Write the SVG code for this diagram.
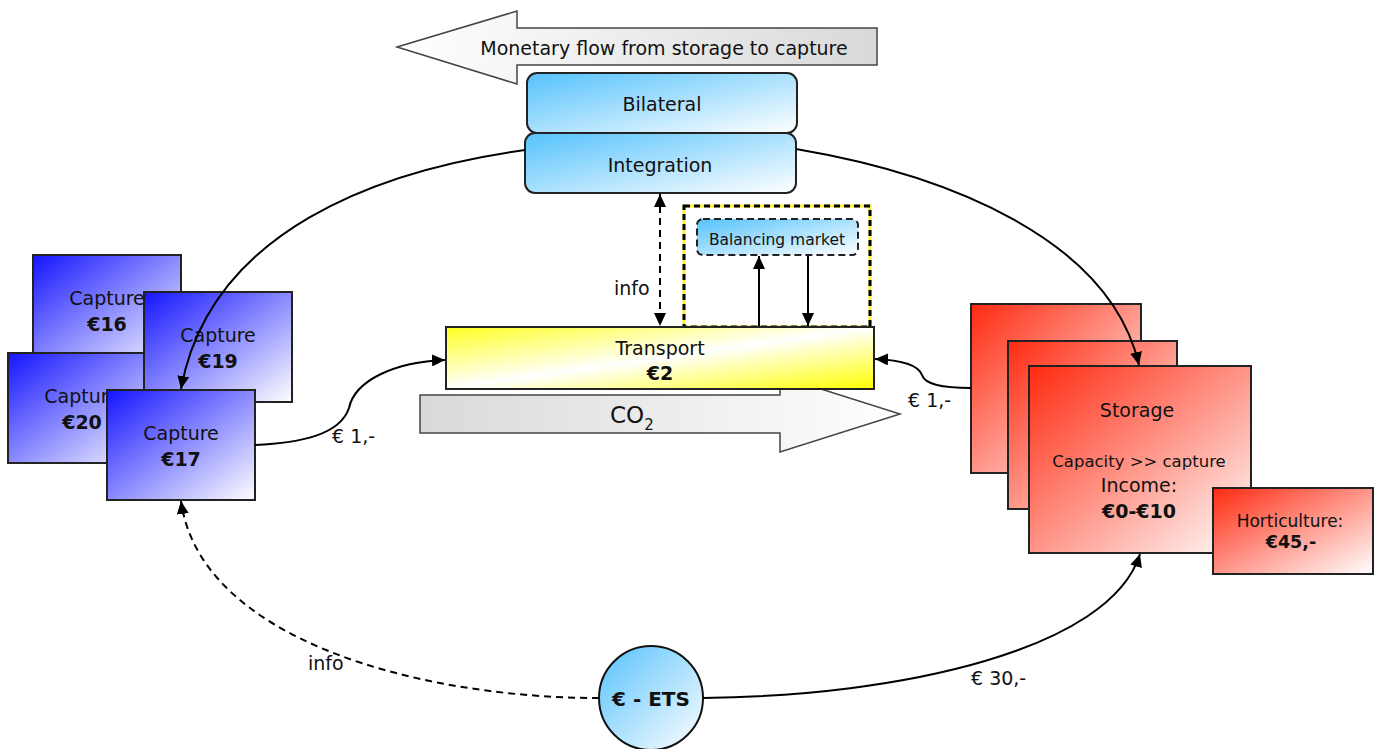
<svg xmlns="http://www.w3.org/2000/svg" width="1380" height="749" viewBox="0 0 1380 749">
<defs>
<linearGradient id="gBlue" x1="0" y1="0" x2="1" y2="1"><stop offset="0" stop-color="#1414ff"/><stop offset="1" stop-color="#ffffff"/></linearGradient>
<linearGradient id="gRed" x1="0" y1="0" x2="1" y2="1"><stop offset="0" stop-color="#ff2a10"/><stop offset="1" stop-color="#ffffff"/></linearGradient>
<linearGradient id="gSky" x1="0" y1="0" x2="1" y2="1"><stop offset="0" stop-color="#55c2fc"/><stop offset="1" stop-color="#ffffff"/></linearGradient>
<linearGradient id="gYel" x1="0" y1="0" x2="1" y2="1"><stop offset="0" stop-color="#ffff20"/><stop offset="0.5" stop-color="#ffffff"/><stop offset="1" stop-color="#ffff00"/></linearGradient>
<linearGradient id="gGrayR" x1="0" y1="0" x2="1" y2="0"><stop offset="0" stop-color="#ffffff"/><stop offset="1" stop-color="#d9d9d9"/></linearGradient>
<linearGradient id="gGrayL" x1="0" y1="0" x2="1" y2="0"><stop offset="0" stop-color="#d9d9d9"/><stop offset="1" stop-color="#ffffff"/></linearGradient>
<marker id="ah" markerUnits="userSpaceOnUse" markerWidth="14" markerHeight="12" refX="13" refY="6" orient="auto-start-reverse"><path d="M0,0 L13,6 L0,12 z" fill="#000"/></marker>
<style>
text{font-family:"DejaVu Sans","Liberation Sans",sans-serif;fill:#111;}
.t18{font-size:19px;}
.b{font-weight:bold;}
.box{stroke:#222;stroke-width:2;}
.c{text-anchor:middle;}
.ln{fill:none;stroke:#000;stroke-width:2;}
.dash{stroke-dasharray:7 5;}
</style>
</defs>

<g id="monetary-arrow">
<polygon points="397,47 517,11 517,28 877,28 877,65 517,65 517,84" fill="url(#gGrayR)" stroke="#444" stroke-width="1.5"/>
<text class="c" x="664" y="55" style="font-size:19px">Monetary flow from storage to capture</text>
</g>

<g id="co2-arrow">
<polygon points="420,395 780,395 780,376 900,414 780,452 780,433 420,433" fill="url(#gGrayL)" stroke="#444" stroke-width="1.5"/>
<text x="610" y="423" style="font-size:23px">CO<tspan dy="7" style="font-size:15px">2</tspan></text>
</g>

<g id="bilateral">
<rect class="box" x="527" y="73" width="270" height="60" rx="10" fill="url(#gSky)"/>
<text class="c t18" x="662" y="111">Bilateral</text>
</g>
<g id="integration">
<rect class="box" x="525" y="133" width="271" height="60" rx="10" fill="url(#gSky)"/>
<text class="c t18" x="660" y="172">Integration</text>
</g>

<g id="balancing-area">
<rect x="684" y="206" width="186" height="121" fill="none" stroke="#ffee33" stroke-width="3"/>
<rect x="684" y="206" width="186" height="121" fill="none" stroke="#000" stroke-width="3" stroke-dasharray="6 4"/>
</g>
<g id="balancing-market">
<rect x="697" y="219" width="161" height="36" rx="6" fill="url(#gSky)" stroke="#222" stroke-width="2" stroke-dasharray="7 4"/>
<text class="c" x="777" y="245" style="font-size:15.5px">Balancing market</text>
</g>

<g id="transport">
<rect class="box" x="446" y="327" width="428" height="62" fill="url(#gYel)"/>
<text class="c t18" x="660" y="355">Transport</text>
<text class="c t18 b" x="660" y="380">€2</text>
</g>

<g id="capture16">
<rect class="box" x="33" y="255" width="148" height="110" fill="url(#gBlue)"/>
<text class="c t18" x="107" y="305">Capture</text>
<text class="c t18 b" x="107" y="331">€16</text>
</g>
<g id="capture20">
<rect class="box" x="8" y="353" width="148" height="110" fill="url(#gBlue)"/>
<text class="c t18" x="82" y="403">Capture</text>
<text class="c t18 b" x="82" y="429">€20</text>
</g>
<g id="capture19">
<rect class="box" x="144" y="292" width="148" height="110" fill="url(#gBlue)"/>
<text class="c t18" x="218" y="342">Capture</text>
<text class="c t18 b" x="218" y="368">€19</text>
</g>
<g id="capture17">
<rect class="box" x="107" y="390" width="148" height="110" fill="url(#gBlue)"/>
<text class="c t18" x="181" y="440">Capture</text>
<text class="c t18 b" x="181" y="466">€17</text>
</g>

<g id="storage-back">
<rect class="box" x="971" y="304" width="170" height="169" fill="url(#gRed)"/>
</g>
<g id="storage-mid">
<rect class="box" x="1008" y="341" width="169" height="168" fill="url(#gRed)"/>
</g>
<g id="storage">
<rect class="box" x="1029" y="366" width="222" height="187" fill="url(#gRed)"/>
<text class="c t18" x="1137" y="417">Storage</text>
<text class="c" x="1139" y="467" style="font-size:16.5px">Capacity &gt;&gt; capture</text>
<text class="c t18" x="1139" y="492">Income:</text>
<text class="c t18 b" x="1139" y="518">€0-€10</text>
</g>
<g id="horticulture">
<rect class="box" x="1213" y="488" width="160" height="86" fill="url(#gRed)"/>
<text class="c" x="1290" y="527" style="font-size:17px">Horticulture:</text>
<text class="c b" x="1291" y="548" style="font-size:17.5px">€45,-</text>
</g>

<g id="ets">
<circle cx="651" cy="698" r="52" fill="url(#gSky)" stroke="#111" stroke-width="2"/>
<text class="c b" x="651" y="706" style="font-size:20px">€ - ETS</text>
</g>

<g id="connectors">
<path class="ln" d="M525,150 C380,170 210,230 181,389" marker-end="url(#ah)"/>
<path class="ln" d="M796,149 C950,175 1110,240 1139,365" marker-end="url(#ah)"/>
<path class="ln" d="M255,445 C300,443 340,435 349,408 C355,380 395,362 445,360" marker-end="url(#ah)"/>
<path class="ln" d="M971,388 C940,388 925,384 922,375 C918,364 900,360 875,359" marker-end="url(#ah)"/>
<path class="ln" d="M703,698 C900,696 1110,650 1140,554" marker-end="url(#ah)"/>
<path class="ln dash" d="M599,698 C420,698 200,640 181,501" marker-end="url(#ah)"/>
<path class="ln dash" d="M660,194 L660,326" marker-start="url(#ah)" marker-end="url(#ah)"/>
<path class="ln" d="M759,326 L759,256" marker-end="url(#ah)"/>
<path class="ln" d="M808,256 L808,326" marker-end="url(#ah)"/>
<text class="t18" x="614" y="295">info</text>
<text class="t18" x="332" y="443">€ 1,-</text>
<text class="t18" x="908" y="407">€ 1,-</text>
<text class="t18" x="971" y="685">€ 30,-</text>
<text class="t18" x="308" y="670">info</text>
</g>
</svg>
